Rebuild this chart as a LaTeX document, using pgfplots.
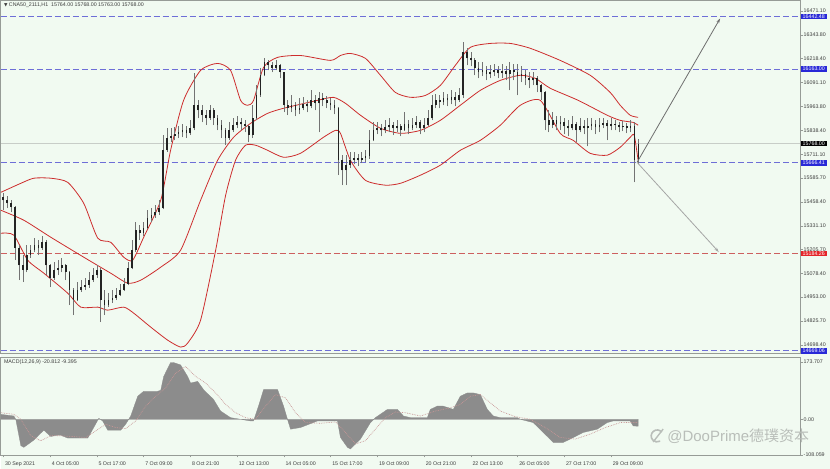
\documentclass[border=0pt]{standalone}
\usepackage{pgfplots}
\pgfplotsset{compat=1.18}
\usepackage{pgfplotstable}
\usepackage{fontspec}
\setmainfont{Liberation Sans}
\newfontfamily\cjk{Noto Sans CJK SC}
\newfontfamily\djv{DejaVu Sans}
\usetikzlibrary{arrows.meta}
\definecolor{bg}{RGB}{241,250,241}
\definecolor{framegray}{RGB}{150,155,150}
\definecolor{labcol}{RGB}{60,60,60}
\definecolor{lvlblue}{RGB}{40,40,215}
\definecolor{lineblue}{RGB}{110,110,215}
\definecolor{lvlred}{RGB}{228,36,40}
\definecolor{linered}{RGB}{205,95,95}
\definecolor{bbred}{RGB}{205,45,45}
\definecolor{wick}{RGB}{115,115,115}
\definecolor{body}{RGB}{35,35,35}
\definecolor{macdgray}{RGB}{140,140,140}
\definecolor{sigcol}{RGB}{200,150,150}
\definecolor{wm}{RGB}{185,190,185}
\definecolor{curline}{RGB}{200,205,200}
\definecolor{arrdark}{RGB}{110,110,110}
\definecolor{arrlight}{RGB}{165,165,165}

\pgfplotstableread{
b o h l c
0 15483 15504 15414 15467
3 15467 15488 15425 15451
6 15451 15467 15403 15430
9 15430 15435 15149 15213
12 15213 15229 15043 15122
15 15122 15176 15032 15096
18 15096 15229 15085 15176
21 15176 15229 15160 15202
24 15202 15266 15191 15229
27 15229 15255 15176 15213
30 15213 15276 15202 15244
33 15244 15255 15070 15122
36 15122 15130 15006 15054
39 15054 15138 15043 15096
42 15096 15149 15070 15107
45 15107 15160 15085 15122
48 15122 15128 15043 15085
51 15085 15090 14911 14990
54 14990 15001 14858 14937
57 14937 15032 14930 14990
60 14990 15043 14979 15006
63 15006 15054 14990 15017
66 15017 15085 15001 15043
69 15043 15107 15032 15070
72 15070 15122 15054 15096
75 15096 15107 14820 14937
78 14937 14990 14858 14911
81 14911 14974 14900 14937
84 14937 14990 14921 14948
87 14948 15001 14937 14964
90 14964 15022 14958 14990
93 14990 15054 14985 15022
96 15022 15138 15015 15107
99 15107 15255 15100 15202
102 15202 15351 15195 15308
105 15308 15335 15255 15292
108 15292 15351 15276 15319
111 15319 15414 15312 15372
114 15372 15425 15351 15388
117 15388 15441 15372 15403
120 15403 15467 15388 15425
123 15425 15812 15418 15732
126 15732 15849 15725 15796
129 15796 15849 15774 15806
132 15806 15854 15785 15817
135 15817 15859 15796 15827
138 15827 15870 15801 15838
141 15838 15859 15796 15822
144 15822 15891 15812 15849
147 15849 16140 15838 15971
150 15971 15997 15902 15944
153 15944 15971 15880 15918
156 15918 15944 15865 15902
159 15902 15971 15895 15944
162 15944 15955 15865 15902
165 15902 15918 15838 15865
168 15865 15891 15796 15838
171 15838 15849 15759 15796
174 15796 15880 15785 15838
177 15838 15902 15827 15865
180 15865 15912 15849 15880
183 15880 15902 15838 15870
186 15870 15891 15827 15859
189 15859 15865 15774 15812
192 15812 15971 15796 15902
195 15902 16076 15895 16023
198 16023 16167 16015 16130
201 16130 16220 16124 16198
204 16198 16209 16156 16183
207 16183 16198 16145 16167
210 16167 16209 16156 16183
213 16183 16188 16114 16145
216 16145 16150 15933 15971
219 15971 15997 15918 15955
222 15955 16023 15933 15971
225 15971 15986 15912 15944
228 15944 16008 15923 15955
231 15955 16013 15944 15976
234 15976 15997 15933 15965
237 15965 16050 15955 15997
240 15997 16023 15944 15981
243 15981 16039 15827 16008
246 16008 16034 15965 15997
249 15997 16018 15955 15981
252 15981 16008 15944 15971
255 15971 15997 15923 15955
258 15955 15960 15600 15679
261 15679 15706 15547 15626
264 15626 15706 15547 15653
267 15653 15721 15637 15679
270 15679 15721 15658 15690
273 15690 15711 15647 15679
276 15679 15721 15663 15690
279 15690 15732 15668 15700
282 15700 15838 15685 15785
285 15785 15880 15780 15838
288 15838 15880 15817 15849
291 15849 15870 15806 15838
294 15838 15891 15822 15854
297 15854 15902 15827 15865
300 15865 15880 15812 15849
303 15849 15891 15827 15859
306 15859 15870 15806 15838
309 15838 15933 15832 15870
312 15870 15891 15817 15849
315 15849 15902 15838 15865
318 15865 15912 15849 15880
321 15880 15891 15817 15849
324 15849 15902 15827 15865
327 15865 15944 15859 15902
330 15902 16023 15891 15971
333 15971 16029 15955 15997
336 15997 16023 15955 15986
339 15986 16039 15971 16008
342 16008 16029 15965 15997
345 15997 16050 15976 16013
348 16013 16039 15965 15997
351 15997 16061 15986 16023
354 16023 16304 16008 16251
357 16251 16273 16183 16220
360 16220 16251 16177 16209
363 16209 16220 16130 16167
366 16167 16198 16114 16145
369 16145 16198 16124 16156
372 16156 16177 16103 16135
375 16135 16183 16114 16145
378 16145 16188 16124 16156
381 16156 16177 16114 16140
384 16140 16188 16114 16151
387 16151 16177 16103 16135
390 16135 16198 16050 16156
393 16156 16188 16103 16145
396 16145 16188 16023 16124
399 16124 16177 16092 16135
402 16135 16156 16076 16114
405 16114 16145 16061 16103
408 16103 16145 16076 16114
411 16114 16124 16039 16076
414 16076 16082 15997 16039
417 16039 16045 15838 15891
420 15891 15944 15827 15865
423 15865 15933 15849 15891
426 15891 15912 15838 15870
429 15870 15912 15838 15880
432 15880 15902 15817 15859
435 15859 15891 15806 15849
438 15849 15912 15838 15870
441 15870 15880 15774 15838
444 15838 15902 15827 15859
447 15859 15891 15817 15849
450 15849 15902 15753 15859
453 15859 15902 15838 15870
456 15870 15891 15817 15854
459 15854 15902 15827 15865
462 15865 15902 15849 15875
465 15875 15891 15785 15859
468 15859 15902 15838 15870
471 15870 15891 15838 15865
474 15865 15880 15827 15854
477 15854 15886 15833 15859
480 15859 15875 15822 15849
483 15849 15891 15827 15859
486 15859 15880 15562 15680
489 15680 15790 15660 15768
}\candles

\newcommand{\lab}{\fontsize{5.3}{6}\selectfont}

\begin{document}
\begin{tikzpicture}
\fill[bg] (0pt,0pt) rectangle (830pt,469pt);

\begin{axis}[
  at={(0pt,116pt)}, anchor=south west,
  width=800pt, height=353pt, scale only axis,
  xmin=-1.92, xmax=613.5, ymin=14656.4, ymax=16527.3,
  scaled y ticks=false, scaled x ticks=false,
  axis background/.style={fill=bg},
  axis line style={draw=framegray, line width=0.8pt},
  xtick=\empty,
  ytick={16471.10,16343.80,16218.40,16091.10,15963.80,15838.40,15711.10,15585.70,15458.40,15331.10,15205.70,15078.40,14953.00,14825.70,14698.40},
  yticklabels={16471.10,16343.80,16218.40,16091.10,15963.80,15838.40,15711.10,15585.70,15458.40,15331.10,15205.70,15078.40,14953.00,14825.70,14698.40},
  ytick pos=right, tick align=outside, major tick length=2.5pt,
  tick style={draw=framegray, line width=0.4pt},
  yticklabel style={font=\lab, text=labcol, anchor=west, inner sep=1pt},
  clip=false,
]
% level lines
\addplot[lineblue, line width=0.6pt, dash pattern=on 6pt off 3pt, forget plot] coordinates {(-1.92,16442.48) (613.5,16442.48)};
\addplot[lineblue, line width=0.6pt, dash pattern=on 6pt off 3pt, forget plot] coordinates {(-1.92,16163.00) (613.5,16163.00)};
\addplot[lineblue, line width=0.6pt, dash pattern=on 6pt off 3pt, forget plot] coordinates {(-1.92,15666.41) (613.5,15666.41)};
\addplot[lineblue, line width=0.6pt, dash pattern=on 6pt off 3pt, forget plot] coordinates {(-1.92,14669.06) (613.5,14669.06)};
\addplot[linered, line width=0.6pt, dash pattern=on 6pt off 3pt, forget plot] coordinates {(-1.92,15184.26) (613.5,15184.26)};
\addplot[curline, line width=0.6pt, forget plot] coordinates {(-1.92,15768) (613.5,15768)};
% Bollinger bands
\addplot[bbred, line width=0.8pt, smooth, tension=0.4] coordinates {
(-1.9,15509) (13.5,15557) (23.5,15584) (36.5,15584) (49.6,15562) (61.9,15451) (72.7,15266) (82.7,15244) (92.7,15165) (99.6,15149) (108.1,15271) (121.2,15467) (128.8,15732) (138.8,15997) (151.9,16156) (165,16193) (175,16156) (182.7,15997) (188.1,15971) (192.7,15997) (200.4,16172) (211.2,16225) (228.8,16235) (251.9,16209) (259.6,16235) (267.3,16246) (278.8,16220) (290.4,16130) (301.9,16039) (313.5,16013) (325,16023) (336.5,16076) (348.1,16183) (359.6,16278) (375,16299) (390.4,16299) (405.8,16273) (428.8,16209) (451.9,16130) (467.3,16039) (475,15971) (482.7,15918) (488.8,15907)};
\addplot[bbred, line width=0.8pt, smooth, tension=0.4] coordinates {
(-1.9,15414) (15.8,15361) (36.5,15271) (61.9,15165) (82.7,15080) (95.8,15027) (105.8,15043) (121.2,15112) (136.5,15202) (151.9,15467) (165,15679) (177.3,15801) (190.4,15875) (203.5,15928) (215.8,15955) (241.9,15997) (254.2,16013) (263.5,15981) (275,15918) (290.4,15849) (305.8,15822) (321.2,15838) (336.5,15891) (351.9,15971) (367.3,16050) (382.7,16103) (398.1,16130) (409.6,16114) (421.2,16061) (442.7,15997) (465,15918) (475,15891) (485,15880) (488.8,15865)};
\addplot[bbred, line width=0.8pt, smooth, tension=0.4] coordinates {
(-1.9,15292) (8.1,15282) (18.8,15149) (31.2,15080) (49.6,14974) (59.6,14900) (72.7,14900) (80.4,14884) (92.7,14900) (100.4,14868) (113.5,14794) (126.5,14725) (136.5,14688) (141.9,14709) (151.9,14831) (163.5,15202) (171.2,15494) (178.8,15679) (186.5,15759) (194.2,15759) (203.5,15732) (215.8,15695) (228.8,15716) (246.5,15801) (255.8,15838) (259.6,15822) (267.3,15679) (278.8,15573) (294.2,15547) (305.8,15557) (321.2,15600) (336.5,15653) (351.9,15732) (367.3,15785) (382.7,15865) (398.1,15971) (413.5,15997) (428.8,15822) (438.8,15785) (451.9,15716) (465,15706) (475,15748) (482.7,15801) (485.8,15812) (488.8,15679)};
% candles: wicks
\addplot[draw=none, mark=none, forget plot,
  error bars/.cd, y dir=plus, y explicit, error mark=none,
  error bar style={draw=wick, line width=0.6pt}]
  table[x=b, y=l, y error plus expr=\thisrow{h}-\thisrow{l}] {\candles};
% candles: bodies
\addplot[draw=none, mark=none, forget plot,
  error bars/.cd, y dir=plus, y explicit, error mark=none,
  error bar style={draw=body, line width=1.7pt}]
  table[x=b, y expr={min(\thisrow{o},\thisrow{c})}, y error plus expr={abs(\thisrow{c}-\thisrow{o})}] {\candles};
% arrows
\draw[arrdark, line width=0.8pt, -{Stealth[length=5pt,width=3pt]}] (axis cs:488,15668) -- (axis cs:552,16432);
\draw[arrlight, line width=0.8pt, -{Stealth[length=5pt,width=3pt]}] (axis cs:488,15668) -- (axis cs:551,15192);
% level boxes
\node[fill=lvlblue, text=white, font=\lab, inner xsep=2pt, inner ysep=1pt, anchor=west, xshift=0.5pt] at (axis cs:613.5,16442.48) {16442.48};
\node[fill=lvlblue, text=white, font=\lab, inner xsep=2pt, inner ysep=1pt, anchor=west, xshift=0.5pt] at (axis cs:613.5,16163.00) {16163.00};
\node[fill=black, text=white, font=\lab, inner xsep=2pt, inner ysep=1pt, anchor=west, xshift=0.5pt] at (axis cs:613.5,15768.00) {15768.00};
\node[fill=lvlblue, text=white, font=\lab, inner xsep=2pt, inner ysep=1pt, anchor=west, xshift=0.5pt] at (axis cs:613.5,15666.41) {15666.41};
\node[fill=lvlred, text=white, font=\lab, inner xsep=2pt, inner ysep=1pt, anchor=west, xshift=0.5pt] at (axis cs:613.5,15184.26) {15184.26};
\node[fill=lvlblue, text=white, font=\lab, inner xsep=2pt, inner ysep=1pt, anchor=west, xshift=0.5pt] at (axis cs:613.5,14669.06) {14669.06};
\end{axis}

\begin{axis}[
  at={(0pt,14pt)}, anchor=south west,
  width=800pt, height=98pt, scale only axis,
  xmin=-1.92, xmax=613.5, ymin=-108.1, ymax=188.8,
  scaled y ticks=false, scaled x ticks=false,
  axis background/.style={fill=bg},
  axis line style={draw=framegray, line width=0.8pt},
  xtick={0,36,...,468},
  xticklabels={30 Sep 2021,4 Oct 05:00,5 Oct 17:00,7 Oct 09:00,8 Oct 21:00,12 Oct 13:00,14 Oct 05:00,15 Oct 17:00,19 Oct 09:00,20 Oct 21:00,22 Oct 13:00,26 Oct 05:00,27 Oct 17:00,29 Oct 09:00},
  xtick pos=left, ytick pos=right, tick align=outside, major tick length=2.5pt,
  tick style={draw=framegray, line width=0.4pt},
  xticklabel style={font=\lab, text=labcol, anchor=north west, inner sep=1pt, xshift=0.5pt, yshift=-3pt},
  ytick={-108.059,0,173.707}, yticklabels={-108.059,0.00,173.707},
  yticklabel style={font=\lab, text=labcol, anchor=west, inner sep=1pt},
]
\addplot[fill=macdgray, draw=macdgray, line width=0.3pt] coordinates {
(-1.9,0) (-1.9,15) (8.1,10) (9.6,0) (13.5,-80) (15.8,-85) (23.5,-63) (31.2,-33) (36.5,-52) (41.9,-48) (44.2,-48) (49.6,-57) (57.3,-57) (65,-57) (69.6,-25) (73.5,3) (76.5,-5) (80.4,-33) (90.4,-33) (94.2,-15) (98.1,10) (103.5,70) (108.1,85) (118.8,85) (121.2,88) (123.5,130) (128.8,172) (131.2,172) (136.5,165) (141.9,130) (144.2,110) (149.6,115) (154.2,90) (161.9,60) (167.3,25) (175,5) (182.7,0) (190.4,-5) (192.7,-5) (196.5,40) (200.4,90) (211.2,90) (215.8,40) (218.8,0) (221.2,-30) (228.8,-25) (241.9,-5) (257.3,-5) (259.6,-55) (265,-85) (267.3,-90) (275,-60) (282.7,-10) (286.5,5) (295.8,30) (303.5,30) (308.1,10) (313.5,5) (326.5,5) (328.8,30) (334.2,40) (338.8,40) (346.5,30) (351.9,70) (357.3,80) (361.9,80) (367.3,75) (372.7,30) (377.3,10) (382.7,5) (395.8,5) (398.1,0) (408.1,-10) (418.8,-52) (423.5,-70) (431.2,-70) (436.5,-60) (446.5,-40) (457.3,-30) (465,-10) (469.6,-5) (482.7,-5) (485,-20) (488.8,-21) (488.8,0)} -- cycle;
\addplot[sigcol, line width=0.7pt, densely dotted] coordinates {
(-1.9,20) (8.1,15) (13.5,0) (21.2,-50) (28.8,-65) (36.5,-50) (44.2,-50) (51.9,-52) (63.5,-55) (71.2,-35) (78.8,-15) (86.5,-25) (94.2,-28) (101.9,-5) (109.6,40) (117.3,70) (125,95) (132.7,140) (140.4,160) (148.1,130) (155.8,110) (163.5,80) (171.2,45) (178.8,20) (186.5,5) (194.2,0) (201.9,40) (209.6,75) (217.3,65) (225,20) (232.7,-10) (244.2,-12) (255.8,-8) (263.5,-40) (271.2,-75) (278.8,-65) (286.5,-30) (294.2,5) (301.9,22) (309.6,20) (321.2,10) (332.7,25) (344.2,35) (351.9,45) (359.6,70) (367.3,75) (375,50) (382.7,25) (394.2,8) (405.8,0) (417.3,-25) (428.8,-55) (440.4,-60) (451.9,-45) (463.5,-25) (475,-10) (488.8,-9.4)};
\end{axis}

% header texts
\node[anchor=west, inner sep=0pt, text=labcol] at (3pt,464pt) {{\djv\fontsize{4.5}{5}\selectfont ▼}\lab\ CNA50\_2111,H1\ \ 15764.00 15768.00 15763.00 15768.00};
\node[anchor=west, inner sep=0pt, text=labcol, font=\lab] at (3pt,107pt) {MACD(12,26,9) -20.812 -9.395};
% watermark
\draw[wm, line width=1.6pt] (657pt,33pt) ++(40:6pt) arc[start angle=40, end angle=300, radius=6pt];
\draw[wm, line width=1.4pt] (653pt,27pt) -- (663pt,40pt);
\node[anchor=west, inner sep=0pt, text=wm, font=\fontsize{15}{15}\selectfont] at (667pt,33pt) {@DooPrime{\cjk 德璞资本}};
\end{tikzpicture}
\end{document}
